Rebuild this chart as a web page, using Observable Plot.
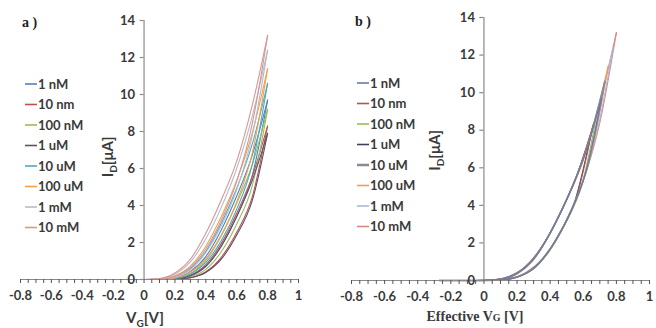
<!DOCTYPE html>
<html>
<head>
<meta charset="utf-8">
<script src="https://cdn.jsdelivr.net/npm/d3@7"></script>
<script src="https://cdn.jsdelivr.net/npm/@observablehq/plot@0.6"></script>
<style>
  html, body { margin: 0; padding: 0; background: #fff; }
  #wrap { display: flex; width: 656px; height: 328px; }
  svg text { font-family: Lato, "Open Sans", sans-serif; }
</style>
</head>
<body>
<div id="wrap"></div>
<script>
// ---------- data ----------
const concentrations = ["1 nM", "10 nm", "100 nM", "1 uM", "10 uM", "100 uM", "1 mM", "10 mM"];
const colorsA = ["#4f81bd", "#c0504d", "#9bbb59", "#5e4f6e", "#4bacc6", "#f0a050", "#b4bccb", "#d99694"];
const colorsB = ["#6a7aa6", "#b8524f", "#9bbb59", "#463d5c", "#858b97", "#f39a5a", "#a9b9d6", "#d9868a"];
const xTicks = [-0.8, -0.6, -0.4, -0.2, 0, 0.2, 0.4, 0.6, 0.8, 1];
const yTicks = [0, 2, 4, 6, 8, 10, 12, 14];

// gate voltage sweep points (V)
const VG = [-0.2, -0.1, 0, 0.1, 0.2, 0.3, 0.4, 0.5, 0.6, 0.7, 0.8];

// drain current (uA), forward and reverse sweeps
const fwd1nM   = [0, 0, 0, 0.005, 0.08, 0.43, 1.24, 2.68, 4.51, 6.7, 9.7];
const rev1nM   = [0, 0, 0, 0.002, 0.03, 0.2, 0.7, 1.8, 3.4, 5.6, 9.7];
const fwd10nm  = [0, 0, 0, 0, 0.03, 0.23, 0.8, 1.94, 3.58, 5.56, 8.3];
const rev10nm  = [0, 0, 0, 0, 0.01, 0.1, 0.42, 1.2, 2.55, 4.45, 8.3];
const fwd100nM = [0, 0, 0, 0, 0.045, 0.32, 1.03, 2.36, 4.12, 6.19, 9.2];
const rev100nM = [0, 0, 0, 0, 0.015, 0.15, 0.55, 1.5, 3.0, 5.05, 9.2];
const fwd1uM   = [0, 0, 0, 0, 0.025, 0.2, 0.72, 1.8, 3.4, 5.35, 7.9];
const rev1uM   = [0, 0, 0, 0, 0.008, 0.09, 0.38, 1.1, 2.4, 4.25, 7.9];
const fwd10uM  = [0, 0, 0, 0.015, 0.14, 0.58, 1.52, 3.04, 4.93, 7.3, 10.6];
const rev10uM  = [0, 0, 0, 0.005, 0.06, 0.3, 0.92, 2.1, 3.8, 6.2, 10.6];
const fwd100uM = [0, 0, 0, 0.03, 0.2, 0.72, 1.8, 3.4, 5.35, 7.9, 11.4];
const rev100uM = [0, 0, 0, 0.01, 0.09, 0.4, 1.12, 2.4, 4.2, 6.8, 11.4];
const fwd1mM   = [0, 0, 0, 0.04, 0.29, 0.95, 2.2, 3.9, 6.0, 8.8, 12.4];
const rev1mM   = [0, 0, 0, 0.015, 0.14, 0.54, 1.45, 2.9, 4.85, 7.75, 12.4];
const fwd10mM  = [0, 0, 0, 0.05, 0.35, 1.1, 2.5, 4.3, 6.4, 9.4, 13.2];
const rev10mM  = [0, 0, 0, 0.02, 0.18, 0.65, 1.65, 3.2, 5.3, 8.4, 13.2];

// threshold offsets (V) subtracted for the effective gate voltage (panel b)
const offsetB = [0.09, 0.14, 0.11, 0.15, 0.07, 0.05, 0.02, 0];

const sweeps = [
  [fwd1nM, rev1nM], [fwd10nm, rev10nm], [fwd100nM, rev100nM], [fwd1uM, rev1uM],
  [fwd10uM, rev10uM], [fwd100uM, rev100uM], [fwd1mM, rev1mM], [fwd10mM, rev10mM]
];

function buildRows(offsets, order) {
  const rows = [];
  order.forEach(s => {
    sweeps[s].forEach((arr, d) => {
      arr.forEach((cur, j) => {
        rows.push({v: VG[j] - offsets[s], i: cur, conc: concentrations[s], key: s + "-" + d});
      });
    });
  });
  return rows;
}
const rowsA = buildRows(concentrations.map(() => 0), [0, 1, 2, 3, 4, 5, 6, 7]);
const rowsB = buildRows(offsetB, [7, 6, 3, 2, 5, 1, 4, 0]);

const minorTicks = d3.range(-16, 21).map(k => +(k * 0.05).toFixed(2));
const axisGrey = "#8a8a8a";
const textCol = "#3a3a3a";

function panel(rows, colors, m, wideSeries) {
  return Plot.plot({
    width: 328, height: 328,
    marginLeft: m.left, marginRight: m.right, marginTop: m.top, marginBottom: m.bottom,
    x: {domain: [-0.8, 1], axis: null},
    y: {domain: [0, 14], axis: null},
    color: {domain: concentrations, range: colors},
    style: {fontFamily: "Lato, sans-serif", fontSize: "13px", fontWeight: "bold", color: textCol, background: "white"},
    marks: [
      Plot.line(rows, {x: "v", y: "i", z: "key", stroke: "conc", curve: "monotone-x",
        strokeWidth: d => (wideSeries && d.conc === wideSeries) ? 1.5 : 1.1}),
      Plot.ruleY([0], {stroke: axisGrey, strokeWidth: 1.2}),
      Plot.axisX({ticks: minorTicks, tickSize: 4, tickFormat: () => "", label: null, stroke: "#555", strokeWidth: 1}),
      Plot.axisX({ticks: xTicks, tickSize: 0, tickPadding: 11, tickFormat: d => String(d), label: null, fill: textCol, fontSize: 13, fontWeight: "bold"}),
      Plot.ruleX([0], {y1: 0, y2: 14, stroke: axisGrey, strokeWidth: 1.2}),
      Plot.ruleY(yTicks, {y: d => d, x1: -0.025, x2: 0, stroke: axisGrey, strokeWidth: 1.2}),
      Plot.text(yTicks, {x: 0, y: d => d, dx: -9, textAnchor: "end", text: d => String(d), fill: textCol, fontSize: 13, fontWeight: "bold"})
    ]
  });
}

const plotA = panel(rowsA, colorsA, {left: 20, right: 30, top: 20, bottom: 49}, null);
const plotB = panel(rowsB, colorsB, {left: 23, right: 7, top: 17, bottom: 48}, "10 uM");

function decorate(plot, colors, opts) {
  const svg = d3.select(plot);
  const sx = plot.scale("x"), sy = plot.scale("y");
  // panel label
  svg.append("text").attr("x", opts.labelX).attr("y", opts.labelY).attr("text-anchor", "start")
    .style("font-family", "'Liberation Serif', serif").style("font-size", "14px").style("font-weight", "bold")
    .attr("fill", "#222").text(opts.label);
  // y title  I_D[uA]
  const yt = svg.append("text")
    .attr("transform", `translate(${sx.apply(0) + opts.yTitleDx},${sy.apply(opts.yTitleAt)}) rotate(-90)`)
    .attr("text-anchor", "middle").attr("fill", textCol)
    .style("font-size", "15px").style("font-weight", "bold");
  yt.append("tspan").text("I");
  yt.append("tspan").attr("font-size", "10px").attr("dy", 4).text("D");
  yt.append("tspan").attr("dy", -4).text("[μA]");
  // x title
  const xt = svg.append("text").attr("x", opts.xTitleX).attr("y", opts.xTitleY)
    .attr("text-anchor", "middle").attr("fill", textCol).style("font-weight", "bold");
  if (opts.serif) {
    xt.style("font-family", "'Liberation Serif', serif").style("font-size", "14px");
    xt.append("tspan").text("Effective V");
    xt.append("tspan").attr("font-size", "10px").text("G");
    xt.append("tspan").text(" [V]");
  } else {
    xt.style("font-size", "15px");
    xt.append("tspan").text("V");
    xt.append("tspan").attr("font-size", "10px").attr("dy", 4).text("G");
    xt.append("tspan").attr("dy", -4).text("[V]");
  }
  // legend
  const g = svg.append("g");
  concentrations.forEach((c, k) => {
    const y = opts.legY + k * 20.5;
    g.append("line").attr("x1", opts.legX).attr("x2", opts.legX + 12).attr("y1", y).attr("y2", y)
      .attr("stroke", colors[k]).attr("stroke-width", (opts.wide === c) ? 2.5 : 1.6);
    g.append("text").attr("x", opts.legX + 13).attr("y", y).attr("dy", "0.36em").attr("text-anchor", "start")
      .attr("fill", textCol).style("font-size", "13px").style("font-weight", "bold").text(c);
  });
}

decorate(plotA, colorsA, {label: "a )", labelX: 22, labelY: 27, yTitleDx: -31, yTitleAt: 6.6,
  xTitleX: 145, xTitleY: 323, serif: false, legX: 25, legY: 84, wide: null});
decorate(plotB, colorsB, {label: "b )", labelX: 27, labelY: 26, yTitleDx: -43, yTitleAt: 6.9,
  xTitleX: 147, xTitleY: 321, serif: true, legX: 29, legY: 83, wide: "10 uM"});

document.getElementById("wrap").append(plotA, plotB);
</script>
</body>
</html>
